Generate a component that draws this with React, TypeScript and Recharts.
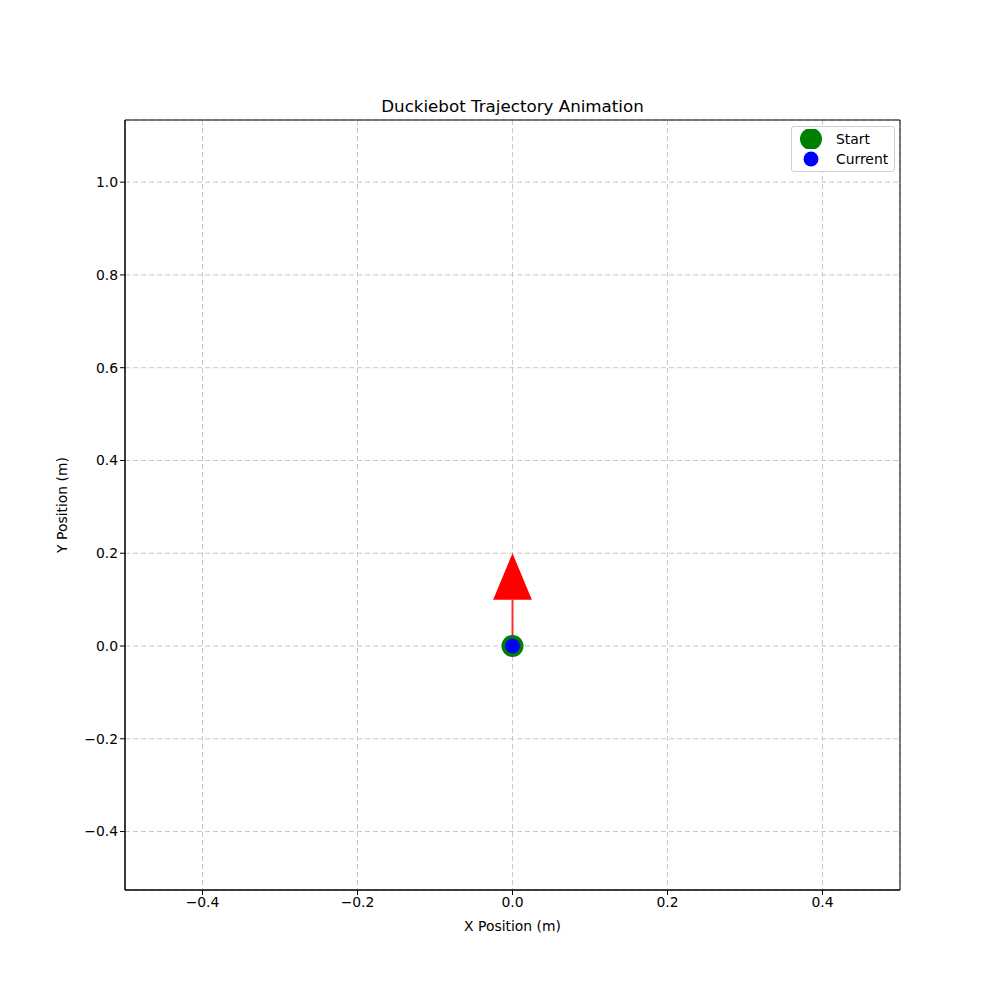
import {
  ComposedChart,
  XAxis,
  YAxis,
  CartesianGrid,
  Scatter,
  Area,
  ReferenceLine,
  ReferenceArea,
} from 'recharts';

const xTicks = [-0.4, -0.2, 0, 0.2, 0.4];
const yTicks = [-0.4, -0.2, 0, 0.2, 0.4, 0.6, 0.8, 1.0];
const xDomain = [-0.5, 0.5];
const yDomain = [-0.526, 1.134];

const startPoint = [{ x: 0, y: 0 }];
const currentPoint = [{ x: 0, y: 0 }];
// heading arrow: shaft from the robot, triangle head on top
const arrowShaft = [
  { x: 0, y: 0 },
  { x: 0, y: 0.1 },
];
const arrowHead = [
  { x: -0.025, y: 0.1 },
  { x: 0, y: 0.2 },
  { x: 0.025, y: 0.1 },
];

const legendItems = [
  { name: 'Start', color: '#008000', r: 11 },
  { name: 'Current', color: '#0000ff', r: 7.5 },
];

const FONT = '"DejaVu Sans", sans-serif';

const fmt = (v: number) => v.toFixed(1).replace('-', '\u2212');

function LegendBox() {
  return (
    <div
      style={{
        position: 'absolute',
        top: 126,
        left: 791,
        background: '#fff',
        border: '1px solid #d0d0d0',
        borderRadius: 3,
        padding: '2px 6px 2px 7px',
        fontFamily: FONT,
        fontSize: 13.9,
        color: '#000',
      }}
    >
      {legendItems.map((it) => (
        <div key={it.name} style={{ display: 'flex', alignItems: 'center', height: 20 }}>
          <svg width={24} height={20} style={{ marginRight: 13 }}>
            <circle cx={12} cy={10} r={it.r} fill={it.color} />
          </svg>
          <span>{it.name}</span>
        </div>
      ))}
    </div>
  );
}

export default function App() {
  return (
    <div style={{ position: 'absolute', left: 0, top: 0, width: 1000, height: 1000, background: '#fff' }}>
      <div
        style={{
          position: 'absolute',
          top: 96,
          left: 125,
          width: 775,
          textAlign: 'center',
          fontFamily: FONT,
          fontSize: 16.7,
          color: '#000',
        }}
      >
        Duckiebot Trajectory Animation
      </div>
      <ComposedChart
        width={1000}
        height={1000}
        margin={{ top: 120, right: 100, left: 0, bottom: 0 }}
      >
        <CartesianGrid stroke="#c8c8c8" strokeDasharray="5 3" />
        <XAxis
          type="number"
          dataKey="x"
          domain={xDomain}
          ticks={xTicks}
          allowDataOverflow
          height={110}
          tickFormatter={fmt}
          tick={{ fontSize: 13.9, fill: '#000', fontFamily: FONT }}
          axisLine={{ stroke: '#000' }}
          tickLine={{ stroke: '#000' }}
          tickSize={5}
          label={{
            value: 'X Position (m)',
            position: 'insideTop',
            offset: 31,
            fontSize: 13.9,
            fill: '#000',
            fontFamily: FONT,
          }}
        />
        <YAxis
          type="number"
          dataKey="y"
          domain={yDomain}
          ticks={yTicks}
          allowDataOverflow
          width={125}
          tickFormatter={fmt}
          tick={{ fontSize: 13.9, fill: '#000', fontFamily: FONT }}
          axisLine={{ stroke: '#000' }}
          tickLine={{ stroke: '#000' }}
          tickSize={5}
          label={{
            value: 'Y Position (m)',
            angle: -90,
            position: 'insideLeft',
            offset: 62,
            textAnchor: 'middle',
            fontSize: 13.9,
            fill: '#000',
            fontFamily: FONT,
          }}
        />
        <ReferenceArea
          x1={xDomain[0]}
          x2={xDomain[1]}
          y1={yDomain[0]}
          y2={yDomain[1]}
          fill="none"
          fillOpacity={0}
          stroke="#000"
          strokeWidth={1}
        />
        <ReferenceLine
          segment={arrowShaft}
          stroke="#ff0000"
          strokeOpacity={0.8}
          strokeWidth={2}
        />
        <Area
          data={arrowHead}
          dataKey="y"
          type="linear"
          baseValue={0.1}
          stroke="none"
          fill="#ff0000"
          fillOpacity={1}
          isAnimationActive={false}
          dot={false}
          activeDot={false}
          legendType="none"
        />
        <Scatter
          name="Start"
          data={startPoint}
          fill="#008000"
          isAnimationActive={false}
          shape={(p: any) => <circle cx={p.cx} cy={p.cy} r={11} fill="#008000" />}
        />
        <Scatter
          name="Current"
          data={currentPoint}
          fill="#0000ff"
          isAnimationActive={false}
          shape={(p: any) => <circle cx={p.cx} cy={p.cy} r={7.5} fill="#0000ff" />}
        />
      </ComposedChart>
      <LegendBox />
    </div>
  );
}
